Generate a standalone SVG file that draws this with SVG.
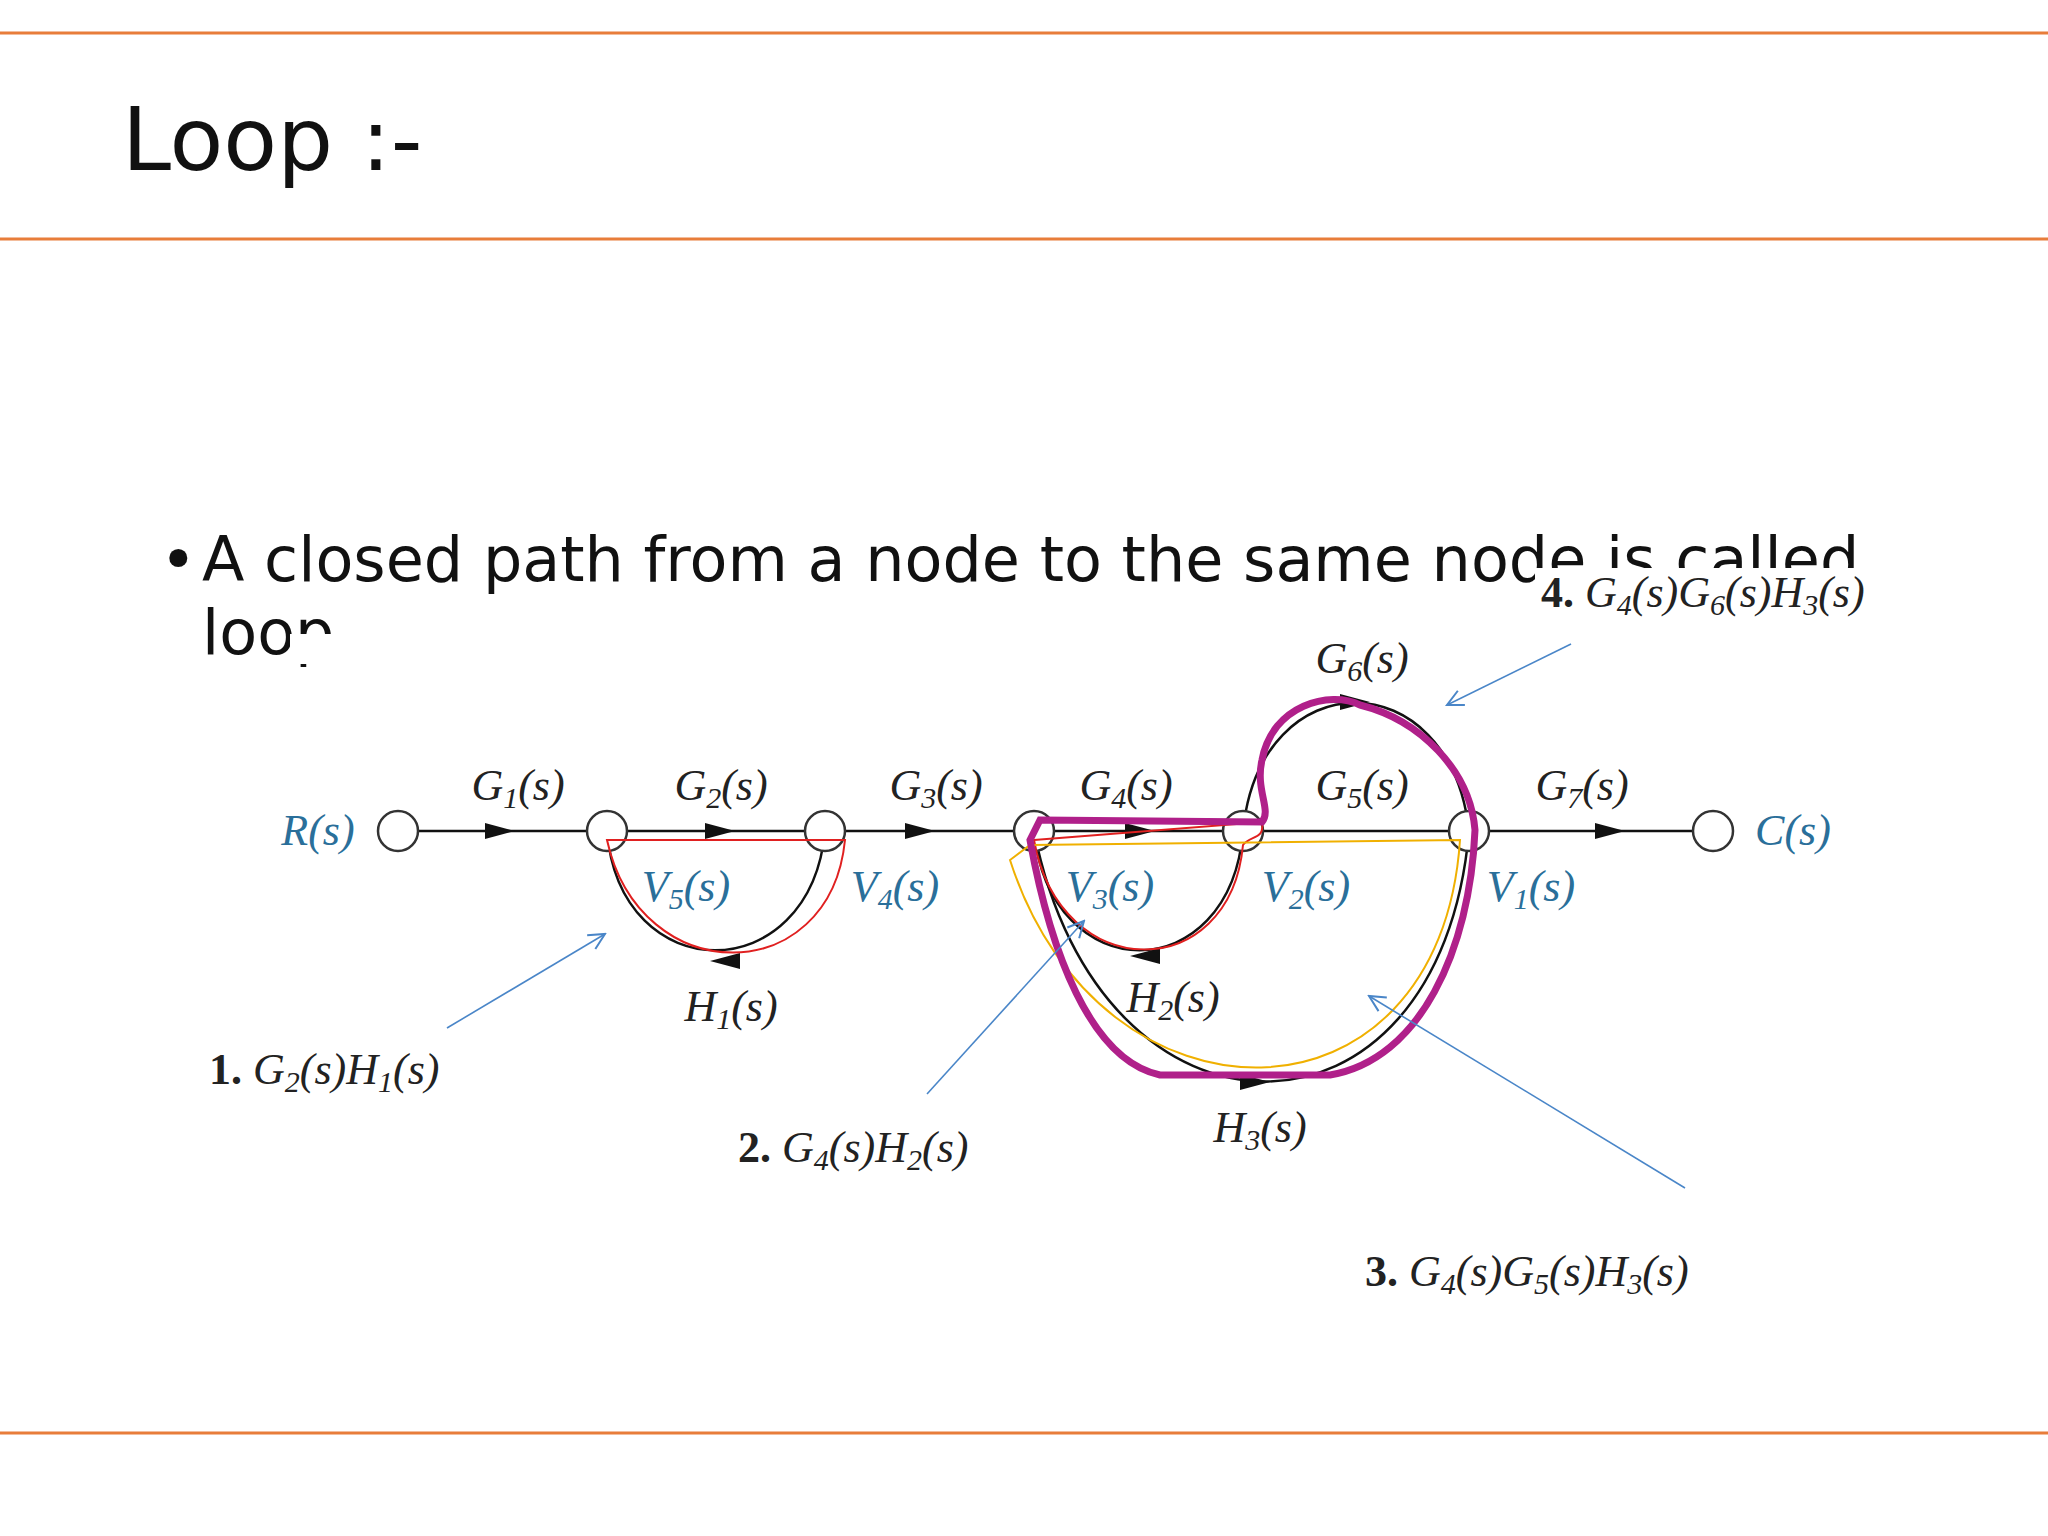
<svg xmlns="http://www.w3.org/2000/svg" width="2048" height="1536" viewBox="0 0 2048 1536">
<style>
.m{font-family:"Liberation Serif",serif;font-style:italic;font-size:44px;fill:#222}
.v{font-family:"Liberation Serif",serif;font-style:italic;font-size:44px;fill:#2a6f9a}
.n{font-style:normal;font-weight:bold}
.s{font-size:30px}
.t{font-family:"DejaVu Sans",sans-serif;fill:#111}
.node{fill:#fff;stroke:#333;stroke-width:2.5}
.br{fill:none;stroke:#111;stroke-width:2.5}
.blue{stroke:#4a86c8;stroke-width:1.6;fill:none}
</style>
<defs>
<marker id="ba" markerWidth="20" markerHeight="20" refX="18" refY="10" orient="auto" markerUnits="userSpaceOnUse"><path d="M2,2 L18,10 L2,18" fill="none" stroke="#4a86c8" stroke-width="2"/></marker>
</defs>
<rect width="2048" height="1536" fill="#fff"/>
<g id="frame" stroke="#e87d3a" stroke-width="3">
<line x1="0" y1="33" x2="2048" y2="33"/><line x1="0" y1="239" x2="2048" y2="239"/><line x1="0" y1="1433" x2="2048" y2="1433"/>
</g>
<text class="t" x="122" y="170" font-size="88">Loop :-</text>
<text class="t" x="160" y="581" font-size="62">•</text>
<text class="t" x="202" y="581" font-size="62">A closed path from a node to the same node is called</text>
<text class="t" x="202" y="654" font-size="62">loop</text>
<rect x="290" y="634" width="1250" height="30" fill="#fff"/>
<g id="connectors">
<line class="br" x1="419" y1="831" x2="1692" y2="831"/>
<path class="br" d="M825,831 C810,990 620,990 607,831"/>
<path class="br" d="M1243,831 C1230,990 1050,990 1034,831"/>
<path class="br" d="M1469,831 C1440,1165 1100,1165 1034,831"/>
<path class="br" d="M1243,831 C1260,660 1450,660 1469,831"/>
<g fill="#111">
<polygon points="485,823 515,831 485,839"/><polygon points="705,823 735,831 705,839"/><polygon points="905,823 935,831 905,839"/>
<polygon points="1125,823 1155,831 1125,839"/><polygon points="1595,823 1625,831 1595,839"/>
<polygon points="740,953 710,961 740,969"/><polygon points="1160,948 1130,956 1160,964"/>
<polygon points="1240,1074 1270,1082 1240,1090"/><polygon points="1340,694 1370,702 1340,710"/>
</g>
</g>
<g id="nodes">
<circle id="nR" class="node" cx="398" cy="831" r="20"/><circle id="nV5" class="node" cx="607" cy="831" r="20"/>
<circle id="nV4" class="node" cx="825" cy="831" r="20"/><circle id="nV3" class="node" cx="1034" cy="831" r="20"/>
<circle id="nV2" class="node" cx="1243" cy="831" r="20"/><circle id="nV1" class="node" cx="1469" cy="831" r="20"/>
<circle id="nC" class="node" cx="1713" cy="831" r="20"/>
</g>
<g id="labels" text-anchor="middle">
<text class="v" x="318" y="845">R(s)</text><text class="v" x="1793" y="845">C(s)</text>
<text class="m" x="518" y="800">G<tspan class="s" dy="8">1</tspan><tspan dy="-8">(s)</tspan></text>
<text class="m" x="721" y="800">G<tspan class="s" dy="8">2</tspan><tspan dy="-8">(s)</tspan></text>
<text class="m" x="936" y="800">G<tspan class="s" dy="8">3</tspan><tspan dy="-8">(s)</tspan></text>
<text class="m" x="1126" y="800">G<tspan class="s" dy="8">4</tspan><tspan dy="-8">(s)</tspan></text>
<text class="m" x="1362" y="800">G<tspan class="s" dy="8">5</tspan><tspan dy="-8">(s)</tspan></text>
<text class="m" x="1582" y="800">G<tspan class="s" dy="8">7</tspan><tspan dy="-8">(s)</tspan></text>
<text class="m" x="1362" y="673">G<tspan class="s" dy="8">6</tspan><tspan dy="-8">(s)</tspan></text>
<text class="v" x="686" y="901">V<tspan class="s" dy="8">5</tspan><tspan dy="-8">(s)</tspan></text>
<text class="v" x="895" y="901">V<tspan class="s" dy="8">4</tspan><tspan dy="-8">(s)</tspan></text>
<text class="v" x="1110" y="901">V<tspan class="s" dy="8">3</tspan><tspan dy="-8">(s)</tspan></text>
<text class="v" x="1306" y="901">V<tspan class="s" dy="8">2</tspan><tspan dy="-8">(s)</tspan></text>
<text class="v" x="1531" y="901">V<tspan class="s" dy="8">1</tspan><tspan dy="-8">(s)</tspan></text>
<text class="m" x="731" y="1021">H<tspan class="s" dy="8">1</tspan><tspan dy="-8">(s)</tspan></text>
<text class="m" x="1173" y="1012">H<tspan class="s" dy="8">2</tspan><tspan dy="-8">(s)</tspan></text>
<text class="m" x="1260" y="1142">H<tspan class="s" dy="8">3</tspan><tspan dy="-8">(s)</tspan></text>
</g>
<g id="annotations" fill="none">
<path d="M607,840 L845,840 C830,990 640,990 607,840 Z" stroke="#e02020" stroke-width="2"/>
<path d="M1034,840 L1262,822 C1265,840 1250,835 1243,845 C1230,985 1060,985 1034,840 Z" stroke="#e02020" stroke-width="2"/>
<path d="M1030,845 L1460,840 C1440,1140 1100,1140 1010,860 Z" stroke="#f0b000" stroke-width="2"/>
<path d="M1040,820 L1262,822 C1272,810 1255,790 1262,760 C1272,705 1330,690 1360,705 C1420,720 1470,770 1475,830 C1470,950 1420,1060 1330,1075 L1160,1075 C1090,1060 1050,950 1030,840 Z" stroke="#b0208a" stroke-width="7"/>
<line class="blue" x1="447" y1="1028" x2="605" y2="934" marker-end="url(#ba)"/>
<line class="blue" x1="927" y1="1094" x2="1084" y2="921" marker-end="url(#ba)"/>
<line class="blue" x1="1685" y1="1188" x2="1369" y2="996" marker-end="url(#ba)"/>
<line class="blue" x1="1571" y1="644" x2="1447" y2="705" marker-end="url(#ba)"/>
<text class="m" x="209" y="1084"><tspan class="n">1.</tspan> G<tspan class="s" dy="8">2</tspan><tspan dy="-8">(s)H</tspan><tspan class="s" dy="8">1</tspan><tspan dy="-8">(s)</tspan></text>
<text class="m" x="738" y="1162"><tspan class="n">2.</tspan> G<tspan class="s" dy="8">4</tspan><tspan dy="-8">(s)H</tspan><tspan class="s" dy="8">2</tspan><tspan dy="-8">(s)</tspan></text>
<text class="m" x="1365" y="1286"><tspan class="n">3.</tspan> G<tspan class="s" dy="8">4</tspan><tspan dy="-8">(s)G</tspan><tspan class="s" dy="8">5</tspan><tspan dy="-8">(s)H</tspan><tspan class="s" dy="8">3</tspan><tspan dy="-8">(s)</tspan></text>
<rect x="1535" y="568" width="410" height="54" fill="#fff"/>
<text class="m" x="1541" y="607"><tspan class="n">4.</tspan> G<tspan class="s" dy="8">4</tspan><tspan dy="-8">(s)G</tspan><tspan class="s" dy="8">6</tspan><tspan dy="-8">(s)H</tspan><tspan class="s" dy="8">3</tspan><tspan dy="-8">(s)</tspan></text>
</g>
</svg>
